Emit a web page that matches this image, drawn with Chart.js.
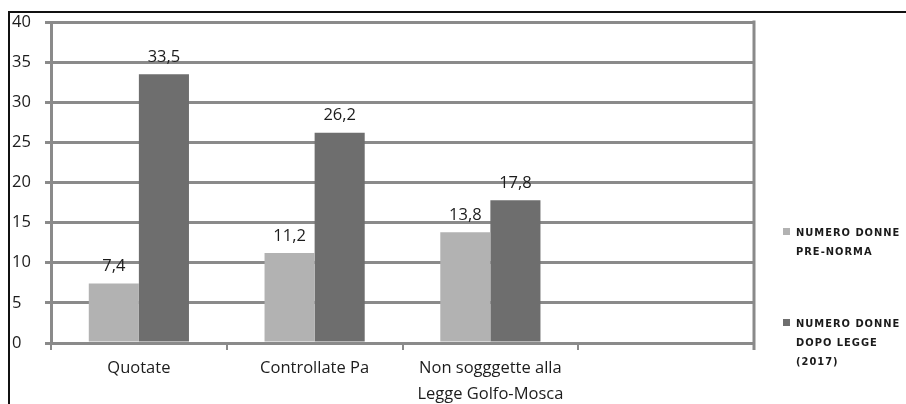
<!DOCTYPE html>
<html>
<head>
<meta charset="utf-8">
<script src="https://cdn.jsdelivr.net/npm/chart.js@4/dist/chart.umd.min.js"></script>
<style>
  html, body { margin: 0; padding: 0; background: #fff; }
  #wrap { position: relative; width: 906px; height: 404px; overflow: hidden; }
  #frame { position: absolute; left: 8px; top: 11px; right: -4px; bottom: -4px;
           border-top: 2px solid #111; border-left: 2px solid #111; }
  canvas { position: absolute; left: 0; top: 0; }
</style>
</head>
<body>
<div id="wrap">
  <div id="frame"></div>
  <canvas id="c" width="906" height="404"></canvas>
</div>
<script>
// Company categories (the last slot is left empty on purpose)
const categories = ['Quotate', 'Controllate Pa', ['Non sogggette alla', 'Legge Golfo-Mosca'], ''];
// Share of women on boards, before and after the law
const preNorma = [7.4, 11.2, 13.8, null];
const dopoLegge = [33.5, 26.2, 17.8, null];
// Y axis ticks
const yTicks = [0, 5, 10, 15, 20, 25, 30, 35, 40];
// Legend texts, one entry per line
const legendPre = ['NUMERO DONNE', 'PRE-NORMA'];
const legendDopo = ['NUMERO DONNE', 'DOPO LEGGE', '(2017)'];

const FONT = '"Open Sans", "Liberation Sans", sans-serif';
const GRID = '#8a8a8a';
const TEXT = '#1c1c1c';

const fmt = v => String(v).replace('.', ',');

// Value labels above each bar
const valueLabels = {
  id: 'valueLabels',
  afterDatasetsDraw(chart) {
    const ctx = chart.ctx;
    ctx.save();
    ctx.font = '16.5px ' + FONT;
    ctx.fillStyle = TEXT;
    ctx.textAlign = 'center';
    ctx.textBaseline = 'bottom';
    chart.data.datasets.forEach((ds, i) => {
      chart.getDatasetMeta(i).data.forEach((bar, j) => {
        const v = ds.data[j];
        if (v === null || v === undefined) return;
        ctx.fillText(fmt(v), bar.x, bar.y - 9);
      });
    });
    ctx.restore();
  }
};

// Right-hand border of the plot area
const plotBorder = {
  id: 'plotBorder',
  afterDraw(chart) {
    const a = chart.chartArea, ctx = chart.ctx;
    ctx.save();
    ctx.strokeStyle = GRID;
    ctx.lineWidth = 3;
    ctx.beginPath();
    ctx.moveTo(a.right, a.top - 1.5);
    ctx.lineTo(a.right, a.bottom + 7);
    ctx.stroke();
    ctx.restore();
  }
};

// Legend on the right with wrapped text
const sideLegend = {
  id: 'sideLegend',
  afterDraw(chart) {
    const ctx = chart.ctx;
    const items = [
      { color: chart.data.datasets[0].backgroundColor, lines: legendPre, y: 233 },
      { color: chart.data.datasets[1].backgroundColor, lines: legendDopo, y: 324 }
    ];
    ctx.save();
    ctx.font = 'bold 11px "DejaVu Sans Condensed", "DejaVu Sans", sans-serif';
    ctx.textBaseline = 'middle';
    ctx.textAlign = 'left';
    if ('letterSpacing' in ctx) ctx.letterSpacing = '1px';
    items.forEach(it => {
      ctx.fillStyle = it.color;
      ctx.fillRect(783, it.y - 5, 7, 7);
      ctx.fillStyle = '#1a1a1a';
      it.lines.forEach((t, k) => ctx.fillText(t, 796, it.y + k * 19));
    });
    ctx.restore();
  }
};

new Chart(document.getElementById('c'), {
  type: 'bar',
  data: {
    labels: categories,
    datasets: [
      { label: legendPre.join(' '), data: preNorma, backgroundColor: '#b2b2b2',
        categoryPercentage: 0.57, barPercentage: 1.0 },
      { label: legendDopo.join(' '), data: dopoLegge, backgroundColor: '#6e6e6e',
        categoryPercentage: 0.57, barPercentage: 1.0 }
    ]
  },
  options: {
    responsive: false,
    animation: false,
    layout: { padding: { left: 12, top: 22, right: 152, bottom: 0 } },
    plugins: {
      legend: { display: false },
      tooltip: { enabled: false }
    },
    scales: {
      x: {
        offset: true,
        grid: { drawOnChartArea: false, drawTicks: true, tickLength: 7, color: GRID, lineWidth: 2 },
        border: { display: true, color: GRID, width: 3 },
        ticks: { color: TEXT, font: { family: FONT, size: 16.5, lineHeight: 1.6 }, padding: 5, maxRotation: 0, autoSkip: false },
        afterFit(s) { s.height = 61; }
      },
      y: {
        min: 0, max: 40,
        afterBuildTicks(s) { s.ticks = yTicks.map(v => ({ value: v })); },
        grid: { color: GRID, lineWidth: 3, drawTicks: true, tickLength: 6 },
        border: { display: true, color: GRID, width: 3 },
        ticks: { color: TEXT, font: { family: FONT, size: 16.5 }, crossAlign: 'far', padding: 4 },
        afterFit(s) { s.width = 39; }
      }
    }
  },
  plugins: [valueLabels, plotBorder, sideLegend]
});
</script>
</body>
</html>
